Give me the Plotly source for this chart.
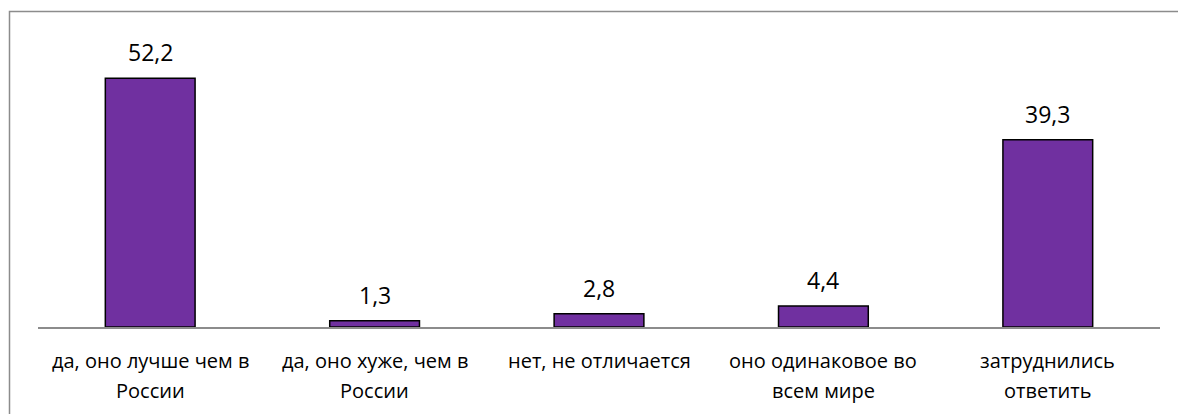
import plotly.graph_objects as go

categories = [
    "да, оно лучше чем в<br>России",
    "да, оно хуже, чем в<br>России",
    "нет, не отличается",
    "оно одинаковое во<br>всем мире",
    "затруднились<br>ответить",
]
values = [52.2, 1.3, 2.8, 4.4, 39.3]
value_labels = ["52,2", "1,3", "2,8", "4,4", "39,3"]

FONT = "Open Sans"
W, H = 1178, 414
ml, pw = 38, 1122
mr = W - ml - pw
mt, ph = 41, 286
mb = H - mt - ph

fig = go.Figure()
fig.add_trace(go.Bar(
    x=categories, y=values,
    marker=dict(color="#7030A0", line=dict(color="black", width=1.5)),
    width=0.4,
    hoverinfo="skip",
))

for c, v, t in zip(categories, values, value_labels):
    fig.add_annotation(x=c, y=v, text=t, showarrow=False, yanchor="middle",
                       yshift=26, font=dict(family=FONT, size=23, color="black"))

# category labels, drawn line by line for Excel-like line spacing
for c in categories:
    for i, line in enumerate(c.split("<br>")):
        fig.add_annotation(x=c, y=0, text=line, showarrow=False, yanchor="middle",
                           yshift=-(33 + 30 * i),
                           font=dict(family=FONT, size=20, color="black"))

# outer chart border (continues past the right and bottom edges)
fig.add_shape(type="rect", xref="paper", yref="paper",
              x0=(9.5 - ml) / pw, x1=(W + 20 - ml) / pw,
              y0=(mt + ph - (H + 20)) / ph, y1=(mt + ph - 11.5) / ph,
              line=dict(color="#8c8c8c", width=1.5), fillcolor="rgba(0,0,0,0)")

fig.update_layout(
    width=W, height=H,
    margin=dict(l=ml, r=mr, t=mt, b=mb),
    paper_bgcolor="white", plot_bgcolor="white",
    showlegend=False,
    font=dict(family=FONT, size=20, color="black"),
)
fig.update_xaxes(showline=True, linecolor="#8c8c8c", linewidth=2, ticks="",
                 showgrid=False, showticklabels=False)
fig.update_yaxes(range=[0, 60], visible=False, showgrid=False, zeroline=False)

fig.write_html("out.html", config={"displayModeBar": False},
               post_script="document.body.style.margin='0';document.body.style.overflow='hidden';")
